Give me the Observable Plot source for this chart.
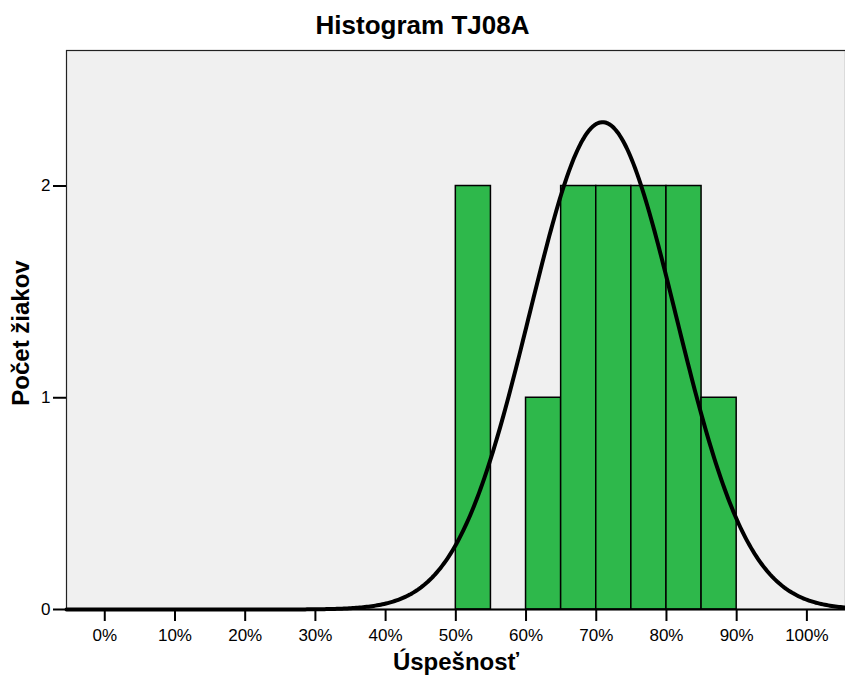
<!DOCTYPE html>
<html>
<head>
<meta charset="utf-8">
<script src="https://cdn.jsdelivr.net/npm/d3@7"></script>
<script src="https://cdn.jsdelivr.net/npm/@observablehq/plot@0.6"></script>
<style>
  html, body { margin: 0; padding: 0; background: #fff; }
  #wrap { position: relative; width: 845px; height: 684px; font-family: Arial, "Liberation Sans", sans-serif; }
  #title { position: absolute; left: 0; top: 12px; width: 845px; text-align: center; font-size: 26px; line-height: 26px; font-weight: bold; color: #000; }
  #chart { position: absolute; left: 0; top: 0; }
</style>
</head>
<body>
<div id="wrap">
  <div id="chart"></div>
  <div id="title">Histogram TJ08A</div>
</div>
<script>
// Histogram bins (percent) and counts
const binStart = [50, 60, 65, 70, 75, 80, 85];
const binWidth = 5;
const counts = [2, 1, 2, 2, 2, 2, 1];

// Fitted normal curve parameters
const curveMean = 70.9;
const curveSd = 10.4;
const nStudents = 12;

const xTicks = [0, 10, 20, 30, 40, 50, 60, 70, 80, 90, 100];
const yTicks = [0, 1, 2];

const titleText = "Histogram TJ08A";
const xLabel = "Úspešnosť";
const yLabel = "Počet žiakov";

const xDomain = [-5.45, 105.5];
const yDomain = [0, 2.64];

const bars = binStart.map((s, i) => ({x1: s, x2: s + binWidth, count: counts[i]}));

const curve = d3.range(xDomain[0], xDomain[1] + 0.001, 0.25).map(x => ({
  x,
  y: nStudents * binWidth * Math.exp(-0.5 * ((x - curveMean) / curveSd) ** 2) / (curveSd * Math.sqrt(2 * Math.PI))
}));

document.getElementById("title").textContent = titleText;

const chart = Plot.plot({
  width: 845,
  height: 684,
  marginTop: 50,
  marginLeft: 66,
  marginRight: 0,
  marginBottom: 75,
  style: {fontFamily: 'Arial, "Liberation Sans", sans-serif', background: "transparent", color: "#000"},
  x: {domain: xDomain},
  y: {domain: yDomain},
  marks: [
    Plot.frame({fill: "#f0f0f0", stroke: "#222", strokeWidth: 1.2}),
    Plot.rectY(bars, {x1: "x1", x2: "x2", y: "count", fill: "#2eb84b", stroke: "#000", strokeWidth: 1.5}),
    Plot.line(curve, {x: "x", y: "y", stroke: "#000", strokeWidth: 4, curve: "linear"}),
    Plot.ruleY([0], {stroke: "#000", strokeWidth: 2}),
    Plot.axisX(xTicks, {tickSize: 12, tickPadding: 7, fontSize: 17, tickFormat: d => d + "%", label: null, stroke: "#000", strokeWidth: 2}),
    Plot.axisY(yTicks, {tickSize: 13, tickPadding: 3, fontSize: 17, tickFormat: d => String(d), label: null, stroke: "#000", strokeWidth: 2}),
    Plot.text([xLabel], {frameAnchor: "bottom", dy: 60, fontSize: 24, fontWeight: "bold", fill: "#000", textAnchor: "middle"}),
    Plot.text([yLabel], {frameAnchor: "left", dy: 3, dx: -45, rotate: -90, fontSize: 24, fontWeight: "bold", fill: "#000", textAnchor: "middle"})
  ]
});
document.getElementById("chart").appendChild(chart);
</script>
</body>
</html>
